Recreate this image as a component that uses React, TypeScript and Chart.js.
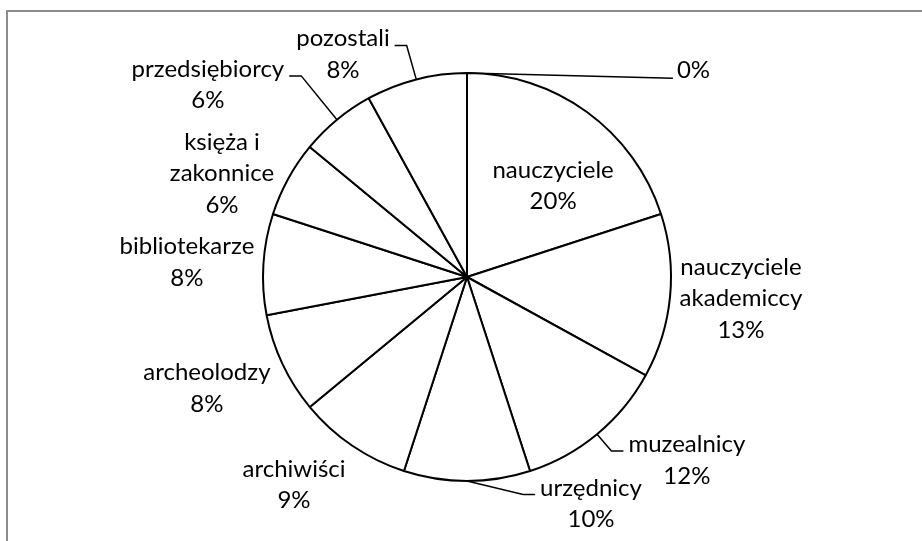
import React, { useEffect, useRef } from "react";
import { Chart, registerables } from "chart.js";

Chart.register(...registerables);

// ---- data ----
const categories: string[] = [
  "",
  "nauczyciele",
  "nauczyciele\nakademiccy",
  "muzealnicy",
  "urzędnicy",
  "archiwiści",
  "archeolodzy",
  "bibliotekarze",
  "księża i\nzakonnice",
  "przedsiębiorcy",
  "pozostali",
];
const values: number[] = [0, 20, 13, 12, 10, 9, 8, 8, 6, 6, 8];

// ---- label layout (offsets of label block centre from pie centre, in radii) ----
type Place = { dx: number; dy: number; leader: "none" | "elbow" | "straight" };
const labelPlaces: Place[] = [
  { dx: 1.029, dy: -1.01, leader: "straight" },
  { dx: 0.422, dy: -0.444, leader: "none" },
  { dx: 1.343, dy: 0.108, leader: "none" },
  { dx: 1.078, dy: 0.9, leader: "elbow" },
  { dx: 0.608, dy: 1.113, leader: "elbow" },
  { dx: -0.848, dy: 1.022, leader: "none" },
  { dx: -1.275, dy: 0.549, leader: "none" },
  { dx: -1.373, dy: -0.069, leader: "none" },
  { dx: -1.201, dy: -0.505, leader: "none" },
  { dx: -1.27, dy: -0.939, leader: "elbow" },
  { dx: -0.608, dy: -1.088, leader: "elbow" },
];

const FONT_SIZE = 24;
const FONT = `${FONT_SIZE}px Lato, "Open Sans", sans-serif`;
const LINE_H = 31.5;

const framePlugin = {
  id: "frame",
  beforeDraw(chart: any) {
    const ctx = chart.ctx;
    ctx.save();
    ctx.fillStyle = "#ffffff";
    ctx.fillRect(0, 0, chart.width, chart.height);
    ctx.fillStyle = "#8c8c8c";
    ctx.fillRect(6, 10, 2, chart.height);
    ctx.fillRect(6, 10, chart.width, 2);
    ctx.restore();
  },
};

const labelPlugin = {
  id: "pieLabels",
  afterDatasetsDraw(chart: any) {
    const ctx = chart.ctx;
    const meta = chart.getDatasetMeta(0);
    const data = chart.data.datasets[0].data as number[];
    const total = data.reduce((a, b) => a + b, 0);
    ctx.save();
    ctx.font = FONT;
    ctx.fillStyle = "#000000";
    ctx.strokeStyle = "#000000";
    ctx.lineWidth = 1.5;
    meta.data.forEach((arc: any, i: number) => {
      const p = arc.getProps(["x", "y", "startAngle", "endAngle", "outerRadius"], true);
      const R = p.outerRadius;
      const mid = (p.startAngle + p.endAngle) / 2;
      const ax = p.x + Math.cos(mid) * R;
      const ay = p.y + Math.sin(mid) * R;
      const place = labelPlaces[i];
      const pct = Math.round((data[i] / total) * 100) + "%";
      const cat = chart.data.labels[i] as string;
      const lines = (cat ? cat.split("\n") : []).concat([pct]);
      const cx = p.x + place.dx * R;
      const cy = p.y + place.dy * R;
      const n = lines.length;
      const baseOff = FONT_SIZE * 0.3;
      const widths = lines.map((l) => ctx.measureText(l).width);
      const blockW = Math.max(...widths);
      const firstBase = cy + baseOff - ((n - 1) / 2) * LINE_H;

      if (place.leader === "straight") {
        // left-aligned single label
        ctx.textAlign = "left";
        ctx.textBaseline = "alphabetic";
        lines.forEach((l, k) => ctx.fillText(l, cx, firstBase + k * LINE_H));
        ctx.beginPath();
        ctx.moveTo(ax, ay);
        ctx.lineTo(cx - 4, firstBase);
        ctx.stroke();
        return;
      }

      ctx.textAlign = "center";
      ctx.textBaseline = "alphabetic";
      lines.forEach((l, k) => ctx.fillText(l, cx, firstBase + k * LINE_H));

      if (place.leader === "elbow") {
        const ly = firstBase - 1;
        const right = cx > ax;
        const edge = right ? cx - blockW / 2 : cx + blockW / 2;
        const sgn = right ? -1 : 1;
        ctx.beginPath();
        ctx.moveTo(ax, ay);
        ctx.lineTo(edge + sgn * 17, ly);
        ctx.lineTo(edge + sgn * 5, ly);
        ctx.stroke();
      }
    });
    ctx.restore();
  },
};

export default function App() {
  const ref = useRef<HTMLCanvasElement | null>(null);
  useEffect(() => {
    if (!ref.current) return;
    const chart = new Chart(ref.current, {
      type: "pie",
      data: {
        labels: categories,
        datasets: [
          {
            data: values,
            backgroundColor: "#ffffff",
            borderColor: "#000000",
            borderWidth: 2,
          },
        ],
      },
      options: {
        responsive: false,
        animation: false,
        layout: { padding: { left: 262, right: 250, top: 72, bottom: 59 } },
        plugins: {
          legend: { display: false },
          tooltip: { enabled: false },
        },
      },
      plugins: [framePlugin, labelPlugin],
    });
    return () => chart.destroy();
  }, []);
  return (
    <div style={{ position: "fixed", left: 0, top: 0, width: 922, height: 541, background: "#fff" }}>
      <canvas ref={ref} width={922} height={541} style={{ display: "block" }} />
    </div>
  );
}
